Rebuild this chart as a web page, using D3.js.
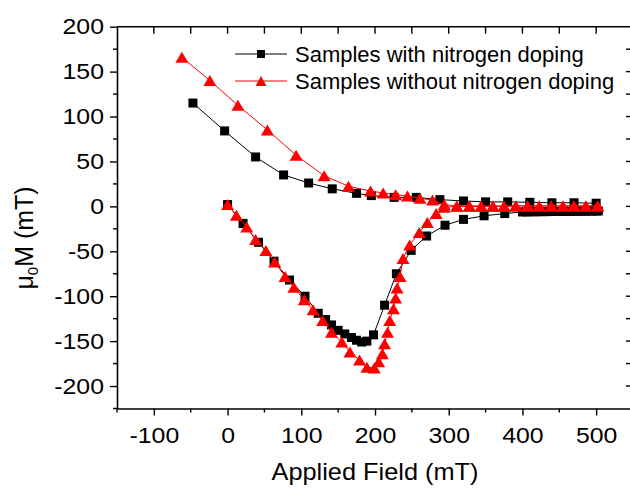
<!DOCTYPE html>
<html>
<head>
<meta charset="utf-8">
<script src="https://cdn.jsdelivr.net/npm/d3@7"></script>
<style>
  html, body { margin: 0; padding: 0; background: #ffffff; }
  svg { display: block; }
  text { font-family: "Liberation Sans", Arial, sans-serif; fill: #000; }
</style>
</head>
<body>
<div id="chart"></div>
<script>
// ---------------- data ----------------
const seriesNames = ["Samples with nitrogen doping", "Samples without nitrogen doping"];

// with nitrogen doping (black squares)
const blackLowerX = [0, 21, 42, 63, 84, 105, 123, 133, 141, 150, 159, 168, 175, 182, 189, 198, 213, 229, 249, 270, 295, 320, 348, 376,
  400, 405, 410, 415, 420, 425, 430, 435, 440, 445, 450, 455, 460, 465, 470, 475, 480, 485, 490, 495, 500, 503];
const blackLowerY = [2, -19, -40, -61, -82, -100, -119, -126, -132, -138, -142, -146, -149, -151, -150, -143, -110, -75, -49, -33, -21, -14.5, -10.5, -8,
  -6.2, -6.1, -6, -6, -5.9, -5.9, -5.8, -5.8, -5.7, -5.7, -5.6, -5.6, -5.5, -5.5, -5.4, -5.4, -5.3, -5.3, -5.2, -5.2, -5.1, -5.1];
const blackUpperX = [500, 470, 440, 410, 380, 350, 320, 288, 256, 226, 195, 175, 142, 110, 76, 38, -4, -47];
const blackUpperY = [3.5, 4, 4, 4.5, 5, 5, 6, 7.5, 10, 10, 12, 14.5, 19.5, 26, 35, 55, 84, 115];

// without nitrogen doping (red triangles)
const redLowerX = [0, 12, 26, 38, 52, 64, 78, 90, 104, 116, 129, 141, 155, 166, 179, 189, 199, 205, 210, 213, 217, 220, 225, 228, 230, 234, 238, 247, 260, 271, 283, 294,
  311, 328, 344, 360, 375, 391, 407, 423, 439, 455, 470, 486, 502];
const redLowerY = [2, -10, -23, -37, -49, -62, -78, -90, -104, -115, -127, -140, -151, -162, -171, -179, -180, -173, -164, -153, -140, -127, -114, -102, -91, -78, -58, -43, -29, -18, -8, -1,
  0, 0, 0, 0, 0, 0.5, 0.5, 0.5, 0.5, 0.5, 0.5, 0.5, 0.5];
const redUpperX = [502, 486, 470, 455, 439, 423, 407, 391, 375, 360, 344, 328, 311, 294, 278, 261, 244, 228, 211, 194, 164, 131, 93, 54, 14, -24, -62];
const redUpperY = [0.5, 0.5, 0.5, 0.5, 0.5, 0.5, 0.5, 0.5, 0.5, 0.5, 0.5, 0.5, 0.5, 2, 7, 9, 11.5, 13, 15, 17, 22.5, 34, 57, 85, 112.5, 140, 166];

const xTickValues = [-100, 0, 100, 200, 300, 400, 500];
const yTickValues = [-200, -150, -100, -50, 0, 50, 100, 150, 200];
const xTitle = "Applied Field (mT)";

// ---------------- layout ----------------
const W = 630, H = 488;
const svg = d3.select("#chart").append("svg").attr("width", W).attr("height", H);

const x = d3.scaleLinear().domain([-150, 550]).range([117, 633]);
const y = d3.scaleLinear().domain([-225, 200]).range([408.5, 26.7]);

const BLACK = "#000000", RED = "#ff0000";
const STRETCH = 1.13;

// frame: top and right lines
svg.append("line").attr("x1", x(-150)).attr("x2", x(550)).attr("y1", y(200)).attr("y2", y(200))
  .attr("stroke", "#000").attr("stroke-width", 1.6);
svg.append("line").attr("x1", x(550)).attr("x2", x(550)).attr("y1", y(200)).attr("y2", y(-225))
  .attr("stroke", "#000").attr("stroke-width", 1.6);

// bottom axis
const xMinor = d3.range(-150, 551, 50).filter(v => v % 100 !== 0);
const gx = svg.append("g").attr("transform", `translate(0,${y(-225)})`)
  .call(d3.axisBottom(x).tickValues(xTickValues).tickSizeOuter(0).tickSizeInner(7).tickPadding(6).tickFormat(d3.format("d")));
gx.select(".domain").attr("stroke-width", 1.6);
gx.selectAll(".tick line").attr("stroke-width", 1.4);
gx.selectAll(".tick text").attr("font-size", 22).attr("font-family", "Liberation Sans, Arial, sans-serif")
  .attr("dy", "0.97em").attr("transform", `scale(${STRETCH},1)`)
  .text(d => d < 0 ? "-" + Math.abs(d) : d);
gx.selectAll(".minor").data(xMinor).enter().append("line").attr("class", "minor")
  .attr("x1", d => x(d)).attr("x2", d => x(d)).attr("y1", 0).attr("y2", 4)
  .attr("stroke", "#000").attr("stroke-width", 1.4);

// left axis
const yMinor = d3.range(-225, 201, 25).filter(v => v % 50 !== 0);
const gy = svg.append("g").attr("transform", `translate(${x(-150)},0)`)
  .call(d3.axisLeft(y).tickValues(yTickValues).tickSizeOuter(0).tickSizeInner(7).tickPadding(6).tickFormat(d3.format("d")));
gy.select(".domain").attr("stroke-width", 1.6);
gy.selectAll(".tick line").attr("stroke-width", 1.4);
gy.selectAll(".tick text").attr("font-size", 22).attr("font-family", "Liberation Sans, Arial, sans-serif")
  .attr("x", 0).attr("transform", `translate(-13,0) scale(${STRETCH},1)`)
  .text(d => d < 0 ? "-" + Math.abs(d) : d);
gy.selectAll(".minor").data(yMinor).enter().append("line").attr("class", "minor")
  .attr("x1", 0).attr("x2", -4).attr("y1", d => y(d)).attr("y2", d => y(d))
  .attr("stroke", "#000").attr("stroke-width", 1.4);

// top ticks (inward)
const topTicks = d3.range(-100, 551, 50);
svg.append("g").selectAll("line").data(topTicks).enter().append("line")
  .attr("x1", d => x(d)).attr("x2", d => x(d)).attr("y1", y(200)).attr("y2", y(200) + 7)
  .attr("stroke", "#000").attr("stroke-width", 1.4);
// right ticks (inward)
const rightTicks = d3.range(-200, 200, 25);
svg.append("g").selectAll("line").data(rightTicks).enter().append("line")
  .attr("x1", x(550)).attr("x2", x(550) - 7).attr("y1", d => y(d)).attr("y2", d => y(d))
  .attr("stroke", "#000").attr("stroke-width", 1.4);

// axis titles
svg.append("text").attr("x", (x(-150) + x(550)) / 2).attr("y", 480)
  .attr("text-anchor", "middle").attr("font-size", 24).attr("textLength", 207).attr("lengthAdjust", "spacingAndGlyphs")
  .text(xTitle);
const yt = svg.append("text").attr("transform", "translate(33,238) rotate(-90)")
  .attr("text-anchor", "middle").attr("font-size", 25).attr("textLength", 103).attr("lengthAdjust", "spacingAndGlyphs");
yt.append("tspan").text("\u03BC");
yt.append("tspan").attr("font-size", 15).attr("dy", 5).text("0");
yt.append("tspan").attr("dy", -5).text("M (mT)");

// ---------------- series ----------------
const line = d3.line().x(d => x(d[0])).y(d => y(d[1]));
function pts(xs, ys) { return xs.map((v, i) => [v, ys[i]]); }

const bl = pts(blackLowerX, blackLowerY), bu = pts(blackUpperX, blackUpperY);
const rl = pts(redLowerX, redLowerY), ru = pts(redUpperX, redUpperY);

function square(g, data, color, s) {
  g.selectAll(null).data(data).enter().append("rect")
    .attr("x", d => x(d[0]) - s / 2).attr("y", d => y(d[1]) - s / 2)
    .attr("width", s).attr("height", s).attr("fill", color);
}
function triPath(cx, cy, w, h) {
  return `M${cx},${cy - h / 2}L${cx + w / 2},${cy + h / 2}L${cx - w / 2},${cy + h / 2}Z`;
}
function triangle(g, data, color, w, h) {
  g.selectAll(null).data(data).enter().append("path")
    .attr("d", d => triPath(x(d[0]), y(d[1]), w, h)).attr("fill", color);
}

const gb = svg.append("g");
[bl, bu].forEach(d => gb.append("path").attr("d", line(d)).attr("fill", "none").attr("stroke", BLACK).attr("stroke-width", 1));
square(gb, bl, BLACK, 9);
square(gb, bu, BLACK, 9);

const gr = svg.append("g");
[rl, ru].forEach(d => gr.append("path").attr("d", line(d)).attr("fill", "none").attr("stroke", RED).attr("stroke-width", 1));
triangle(gr, rl, RED, 13, 11);
triangle(gr, ru, RED, 13, 11);

// ---------------- legend ----------------
const legend = svg.append("g");
const legRows = [{ name: seriesNames[0], color: BLACK, shape: "square", cy: 54 },
                 { name: seriesNames[1], color: RED, shape: "triangle", cy: 81 }];
legRows.forEach(r => {
  legend.append("line").attr("x1", 235).attr("x2", 287).attr("y1", r.cy).attr("y2", r.cy)
    .attr("stroke", r.color).attr("stroke-width", 1);
  if (r.shape === "square") {
    legend.append("rect").attr("x", 261 - 4).attr("y", r.cy - 4).attr("width", 8).attr("height", 8).attr("fill", r.color);
  } else {
    legend.append("path").attr("d", triPath(261, r.cy, 11, 10)).attr("fill", r.color);
  }
  legend.append("text").attr("x", 295).attr("y", r.cy + 8).attr("font-size", 22).text(r.name);
});
</script>
</body>
</html>
